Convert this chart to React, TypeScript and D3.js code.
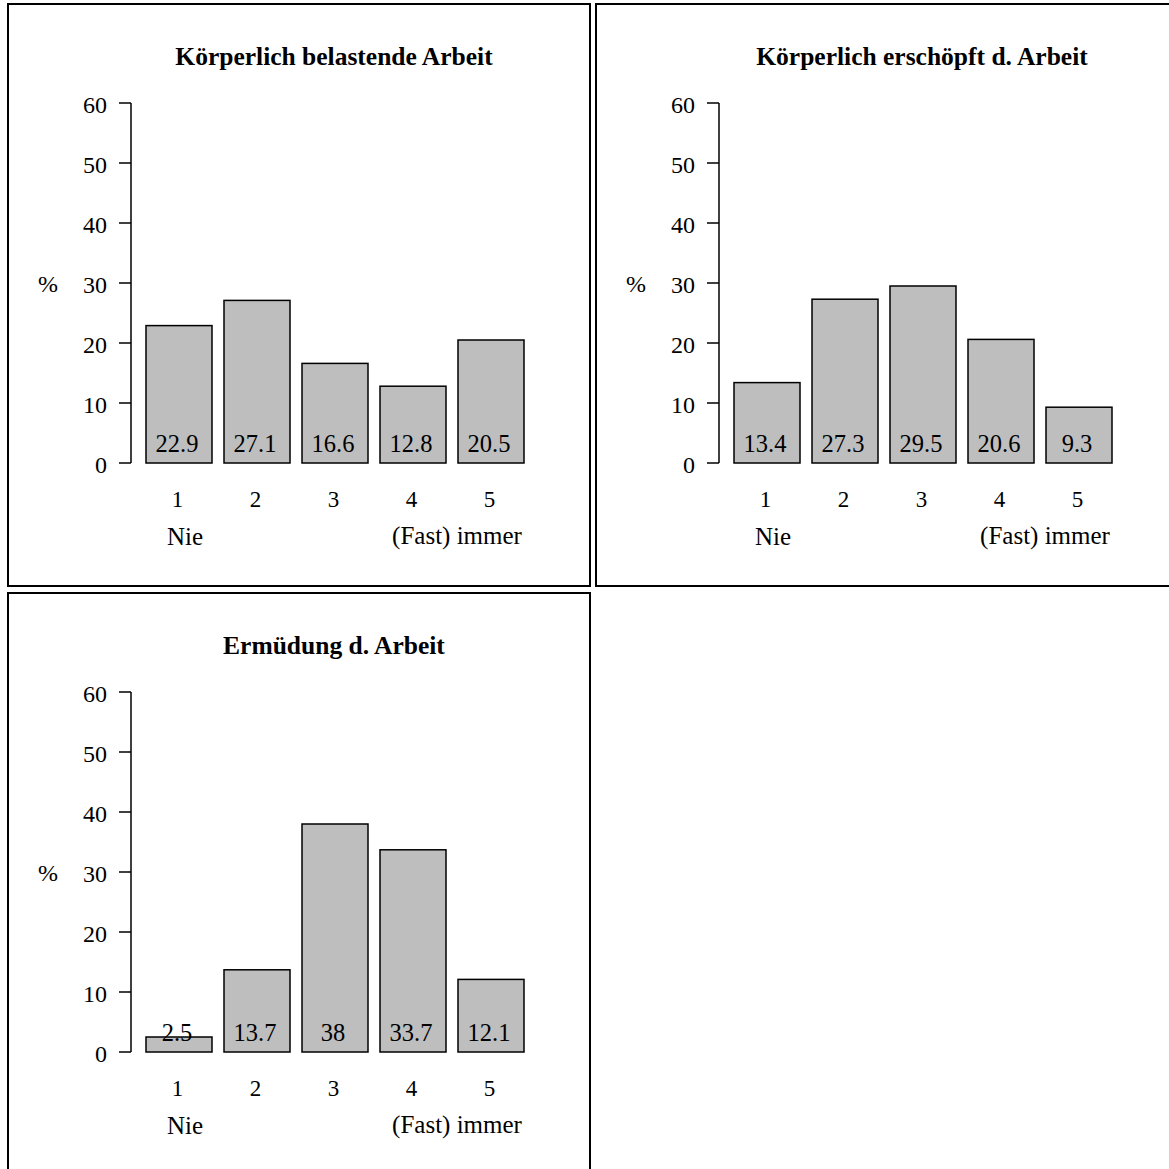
import React from "react";
import * as d3 from "d3";

const categories = ["1", "2", "3", "4", "5"];
const titles = [
  "Körperlich belastende Arbeit",
  "Körperlich erschöpft d. Arbeit",
  "Ermüdung d. Arbeit",
];
const valuesBelastend = [22.9, 27.1, 16.6, 12.8, 20.5];
const valuesErschoepft = [13.4, 27.3, 29.5, 20.6, 9.3];
const valuesErmuedung = [2.5, 13.7, 38, 33.7, 12.1];
const yTicks = [0, 10, 20, 30, 40, 50, 60];
const lowLabel = "Nie";
const highLabel = "(Fast) immer";

const FONT = "'Liberation Serif', 'Times New Roman', serif";

function Panel({ ox, oy, title, values, w, h }: any) {
  const y = d3.scaleLinear().domain([0, 60]).range([463, 103]);
  const x = d3
    .scaleBand<string>()
    .domain(categories)
    .range([140, 530])
    .paddingInner(12 / 78)
    .paddingOuter(0.5 * 12 / 78);
  const bw = x.bandwidth();
  const cx = (c: string) => (x(c) as number) + bw / 2;
  return (
    <g transform={`translate(${ox},${oy})`}>
      <rect x={8} y={4} width={w} height={h} fill="white" stroke="black" strokeWidth={2} />
      <text x={334} y={65} textAnchor="middle" fontFamily={FONT} fontWeight="bold" fontSize={25.5}>{title}</text>
      <line x1={131} x2={131} y1={y(0)} y2={y(60)} stroke="black" strokeWidth={1.5} />
      {yTicks.map((t) => (
        <g key={t}>
          <line x1={119} x2={131} y1={y(t)} y2={y(t)} stroke="black" strokeWidth={1.5} />
          <text x={107} y={y(t) + 10} textAnchor="end" fontFamily={FONT} fontSize={24}>{t}</text>
        </g>
      ))}
      <text x={48} y={y(30) + 9} textAnchor="middle" fontFamily={FONT} fontSize={24}>%</text>
      {values.map((v: number, i: number) => (
        <g key={i}>
          <rect x={x(categories[i])} y={y(v)} width={bw} height={y(0) - y(v)} fill="#bebebe" stroke="black" strokeWidth={1.5} />
          <text x={cx(categories[i]) - 2} y={452} textAnchor="middle" fontFamily={FONT} fontSize={24.5}>{v}</text>
          <text x={cx(categories[i]) - 1.5} y={507} textAnchor="middle" fontFamily={FONT} fontSize={23}>{categories[i]}</text>
        </g>
      ))}
      <text x={185} y={545} textAnchor="middle" fontFamily={FONT} fontSize={25}>{lowLabel}</text>
      <text x={457} y={544} textAnchor="middle" fontFamily={FONT} fontSize={25}>{highLabel}</text>
    </g>
  );
}

export default function App() {
  return (
    <div style={{ position: "absolute", left: 0, top: 0 }}>
      <svg width={1169} height={1169} style={{ display: "block", background: "white" }}>
        <Panel ox={0} oy={0} title={titles[0]} values={valuesBelastend} w={582} h={582} />
        <Panel ox={588} oy={0} title={titles[1]} values={valuesErschoepft} w={600} h={582} />
        <Panel ox={0} oy={589} title={titles[2]} values={valuesErmuedung} w={582} h={600} />
      </svg>
    </div>
  );
}
